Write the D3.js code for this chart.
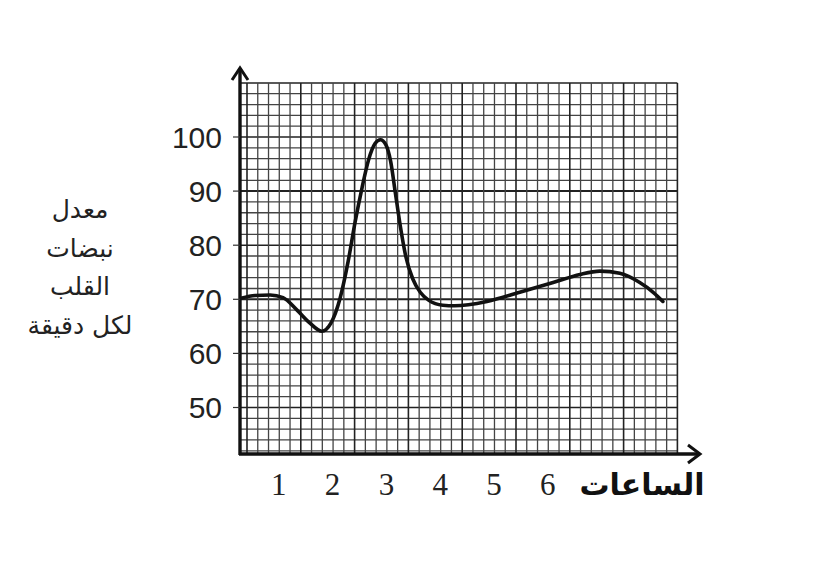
<!DOCTYPE html>
<html>
<head>
<meta charset="utf-8">
<script src="https://cdn.jsdelivr.net/npm/d3@7"></script>
<style>
  html, body { margin: 0; padding: 0; background: #fff; }
  svg { display: block; }
</style>
</head>
<body>
<svg id="chart" width="828" height="562"></svg>
<script>
// ---- data ----
const hours = [0.29, 0.55, 0.83, 1.07, 1.33, 1.57, 1.79, 1.96, 2.13, 2.28, 2.41, 2.54, 2.66, 2.78, 2.88, 2.98, 3.07, 3.16, 3.25, 3.35, 3.48, 3.62, 3.78, 4.04, 4.26, 4.86, 5.47, 6.09, 6.59, 6.96, 7.33, 7.70, 7.95, 8.13];
const heartRate = [70.2, 70.7, 70.8, 70.3, 68.0, 65.6, 64.1, 65.6, 70.2, 77.0, 84.3, 90.7, 95.8, 98.8, 99.5, 98.6, 95.5, 89.5, 83.5, 78.0, 73.8, 71.3, 69.8, 68.9, 68.8, 69.6, 71.3, 73.1, 74.6, 75.2, 74.8, 73.1, 71.3, 69.6];
const xTickValues = [1, 2, 3, 4, 5, 6];
const yTickValues = [50, 60, 70, 80, 90, 100];
const yTitleLines = ["معدل", "نبضات", "القلب", "لكل دقيقة"];
const xTitle = "الساعات";

// ---- layout ----
const svg = d3.select("#chart");
const x = d3.scaleLinear().domain([0.4, 8.4]).range([247, 677.4]);
const y = d3.scaleLinear().domain([40, 100]).range([461.6, 137]);
const xAxisVal = 41.4;   // value where the horizontal axis sits
const yAxisX = 240;      // pixel of the vertical axis
const gridTop = 110, gridBottom = 42;

const g = svg.append("g");

// grid
const hLines = d3.range(gridBottom, gridTop + 0.01, 2);
g.selectAll("line.h").data(hLines).join("line")
  .attr("x1", yAxisX).attr("x2", x(8.4))
  .attr("y1", d => y(d)).attr("y2", d => y(d))
  .attr("stroke", d => (d % 10 === 0) ? "#222" : "#444")
  .attr("stroke-width", d => (d === 70 || d === 90) ? 2 : (d % 10 === 0 ? 1.5 : 1.3));
const vLines = d3.range(0.4, 8.41, 0.2);
g.selectAll("line.v").data(vLines).join("line")
  .attr("x1", d => x(d)).attr("x2", d => x(d))
  .attr("y1", y(gridTop)).attr("y2", y(xAxisVal))
  .attr("stroke", (d, i) => (i % 5 === 0) ? "#222" : "#444")
  .attr("stroke-width", (d, i) => (i % 5 === 0) ? 1.6 : 1.3);

// curve
const pts = hours.map((h, i) => [h, heartRate[i]]);
g.append("path")
  .datum(pts)
  .attr("fill", "none")
  .attr("stroke", "#111")
  .attr("stroke-width", 3.6)
  .attr("stroke-linecap", "round")
  .attr("stroke-linejoin", "round")
  .attr("d", d3.line().x(d => x(d[0])).y(d => y(d[1])).curve(d3.curveMonotoneX));

// axes lines
const axY = y(xAxisVal);
g.append("line").attr("x1", yAxisX).attr("x2", yAxisX).attr("y1", axY + 1).attr("y2", 68)
  .attr("stroke", "#111").attr("stroke-width", 3.4);
g.append("path").attr("d", `M${yAxisX - 8},${80} L${yAxisX},${68} L${yAxisX + 8},${80}`)
  .attr("fill", "none").attr("stroke", "#111").attr("stroke-width", 3).attr("stroke-linejoin", "miter");
g.append("line").attr("x1", yAxisX - 1).attr("x2", 700).attr("y1", axY).attr("y2", axY)
  .attr("stroke", "#111").attr("stroke-width", 3.4);
g.append("path").attr("d", `M${688},${axY - 9} L${700},${axY} L${688},${axY + 9}`)
  .attr("fill", "none").attr("stroke", "#111").attr("stroke-width", 3).attr("stroke-linejoin", "miter");

// y ticks
g.selectAll("line.yt").data(yTickValues).join("line")
  .attr("x1", yAxisX - 7).attr("x2", yAxisX)
  .attr("y1", d => y(d)).attr("y2", d => y(d))
  .attr("stroke", "#333").attr("stroke-width", 1.2);
g.selectAll("text.yl").data(yTickValues).join("text")
  .attr("x", 222).attr("y", d => y(d))
  .attr("dy", "0.36em")
  .attr("text-anchor", "end")
  .attr("font-family", "Liberation Sans, Arial, sans-serif")
  .attr("font-size", 30)
  .attr("fill", "#222")
  .text(d => d);

// x tick labels
g.selectAll("text.xl").data(xTickValues).join("text")
  .attr("x", d => x(d) - 0.5).attr("y", 495)
  .attr("text-anchor", "middle")
  .attr("font-family", "Liberation Serif, Times New Roman, serif")
  .attr("font-size", 31)
  .attr("fill", "#222")
  .text(d => d);

// x title
g.append("text")
  .attr("x", 642).attr("y", 495)
  .attr("text-anchor", "middle")
  .attr("direction", "rtl")
  .attr("font-family", "DejaVu Sans, Noto Sans, sans-serif")
  .attr("font-weight", "bold")
  .attr("font-size", 30)
  .attr("fill", "#111")
  .text(xTitle);

// y title
g.selectAll("text.yt2").data(yTitleLines).join("text")
  .attr("x", 80).attr("y", (d, i) => 218 + i * 38.5)
  .attr("text-anchor", "middle")
  .attr("direction", "rtl")
  .attr("font-family", "DejaVu Sans, Noto Sans, sans-serif")
  .attr("font-size", 25)
  .attr("fill", "#222")
  .text(d => d);
</script>
</body>
</html>
